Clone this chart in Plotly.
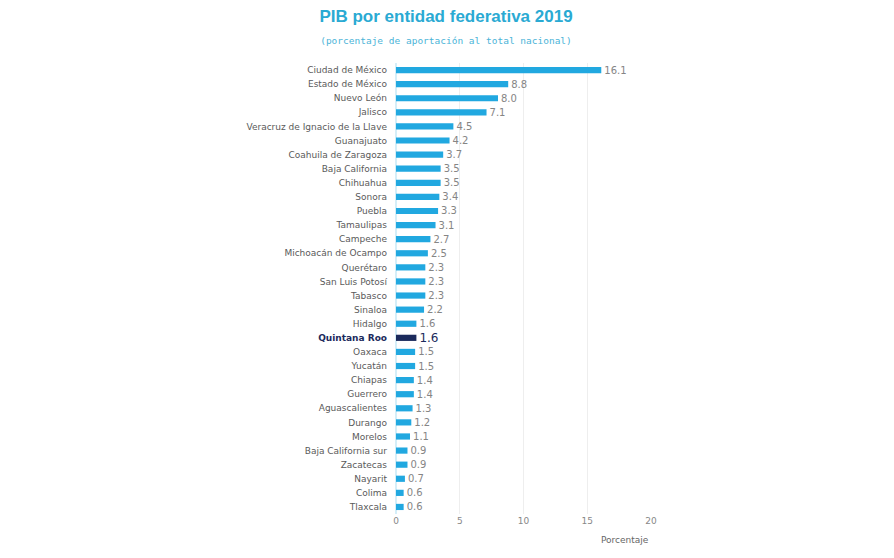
import plotly.graph_objects as go

# Datos: PIB por entidad federativa 2019 (% del total nacional)
estados = ["Ciudad de México", "Estado de México", "Nuevo León", "Jalisco",
           "Veracruz de Ignacio de la Llave", "Guanajuato", "Coahuila de Zaragoza",
           "Baja California", "Chihuahua", "Sonora", "Puebla", "Tamaulipas",
           "Campeche", "Michoacán de Ocampo", "Querétaro", "San Luis Potosí",
           "Tabasco", "Sinaloa", "Hidalgo", "Quintana Roo", "Oaxaca", "Yucatán",
           "Chiapas", "Guerrero", "Aguascalientes", "Durango", "Morelos",
           "Baja California sur", "Zacatecas", "Nayarit", "Colima", "Tlaxcala"]
porcentaje = [16.1, 8.8, 8.0, 7.1, 4.5, 4.2, 3.7, 3.5, 3.5, 3.4, 3.3, 3.1,
              2.7, 2.5, 2.3, 2.3, 2.3, 2.2, 1.6, 1.6, 1.5, 1.5, 1.4, 1.4,
              1.3, 1.2, 1.1, 0.9, 0.9, 0.7, 0.6, 0.6]
destacado = "Quintana Roo"

azul = "#21a8e0"
marino = "#1b2a5c"

colores = [marino if e == destacado else azul for e in estados]
txt_color = [marino if e == destacado else "#858585" for e in estados]
txt_size = [12 if e == destacado else 10 for e in estados]
etiquetas = ["<b><span style='color:%s'>%s</span></b>" % (marino, e) if e == destacado else e
             for e in estados]

fig = go.Figure(go.Bar(
    x=porcentaje, y=estados, orientation="h",
    marker=dict(color=colores, line=dict(width=0)),
    texttemplate="%{x:.1f}", textposition="outside", constraintext="none",
    textfont=dict(color=txt_color, size=txt_size, family="DejaVu Sans"),
    cliponaxis=False,
))

# la página html añade 8px de margen al body
fig.update_layout(
    width=894, height=558,
    margin=dict(l=388, r=251, t=55, b=52),
    paper_bgcolor="white", plot_bgcolor="white",
    font=dict(family="DejaVu Sans", size=9, color="#555555"),
    bargap=0.56,
    showlegend=False,
    title=dict(
        text="<b>PIB por entidad federativa 2019</b><br>"
             "<span style='font-size:9.5px;font-family:DejaVu Sans Mono;color:#4bb4d8'>"
             "(porcentaje de aportación al total nacional)</span>",
        x=438 / 894, xanchor="center", y=1 - 14 / 558, yanchor="top",
        font=dict(size=17, color="#2aaad3", family="Liberation Sans, Arial"),
    ),
    annotations=[dict(text="Porcentaje", xref="paper", yref="paper", x=1, y=0,
                      xanchor="right", yanchor="top", yshift=-19, showarrow=False,
                      font=dict(size=9, color="#666666"))],
)
fig.update_xaxes(range=[0, 20], tickvals=[0, 5, 10, 15, 20], showgrid=True,
                 gridcolor="#eeeeee", zeroline=True, zerolinecolor="#d5eef8",
                 tickfont=dict(size=9, color="#888888"), fixedrange=True)
fig.update_yaxes(tickvals=estados, ticktext=etiquetas, autorange="reversed",
                 ticks="", ticklabelstandoff=8,
                 tickfont=dict(size=9, color="#5a5a5a"))

fig.write_html("out.html")
